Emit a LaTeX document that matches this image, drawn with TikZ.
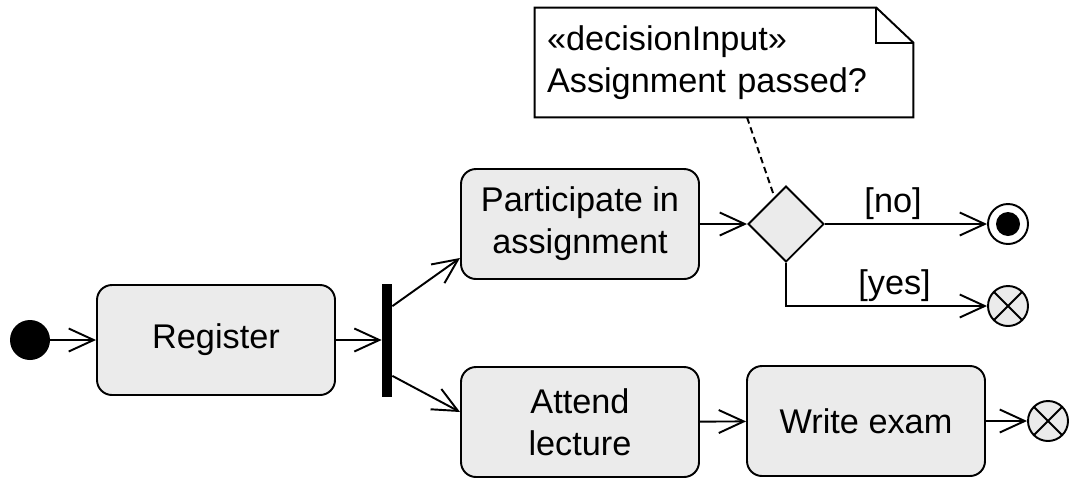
\documentclass[tikz,border=0pt]{standalone}
\usepackage{fontspec}
\setmainfont{Liberation Sans}
\usetikzlibrary{arrows.meta,shapes.geometric,calc}

\definecolor{actgray}{HTML}{EBEBEB}

\tikzset{
  flow/.style={line width=1.1pt,-{Straight Barb[length=0.5cm,width=0.46cm,line width=1.1pt]}},
  action/.style={draw,line width=1.1pt,fill=actgray,rounded corners=0.3cm,
    minimum width=4.76cm,minimum height=2.2cm,align=center,
    font=\fontsize{19.5}{24}\selectfont},
  guard/.style={font=\fontsize{19.5}{24}\selectfont,inner sep=2pt},
  flowfinal/.style={circle,draw,line width=1.1pt,fill=actgray,minimum size=0.8cm,inner sep=0pt,
    path picture={\draw[line width=1.1pt] (path picture bounding box.center)
      +(45:0.4cm) -- +(225:0.4cm) +(135:0.4cm) -- +(-45:0.4cm);}},
}

\begin{document}
\begin{tikzpicture}
  \useasboundingbox (0,0) rectangle (21.4,-9.58);

  % nodes
  \node[circle,fill=black,minimum size=0.8cm,inner sep=0pt] (init) at (0.6,-6.8) {};
  \node[action] (register) at (4.32,-6.8) {Register};
  \node[fill=black,minimum width=0.2cm,minimum height=2.26cm,inner sep=0pt] (fork) at (7.74,-6.8) {};
  \node[action] (participate) at (11.6,-4.48) {Participate in\\assignment};
  \node[action] (attend) at (11.6,-8.44) {Attend\\lecture};
  \node[action] (exam) at (17.32,-8.42) {Write exam};
  \node[diamond,draw,line width=1.1pt,fill=actgray,minimum size=1.52cm,inner sep=0pt] (decision) at (15.72,-4.48) {};
  \node[circle,draw,line width=1.1pt,fill=white,minimum size=0.8cm,inner sep=0pt,
    path picture={\fill[black] (path picture bounding box.center) circle (0.24cm);}] (final) at (20.16,-4.48) {};
  \node[flowfinal] (endyes) at (20.16,-6.12) {};
  \node[flowfinal] (endexam) at (20.96,-8.42) {};

  % note
  \node[minimum width=7.56cm,minimum height=2.18cm,text width=7.08cm,inner sep=0.24cm,
    align=left,font=\fontsize{19.5}{24}\selectfont] (note) at (14.48,-1.25)
    {«decisionInput»\\Assignment passed?};
  \draw[line width=1.1pt] (note.north west) -- ([xshift=-0.74cm]note.north east)
    -- ([yshift=-0.7cm]note.north east) -- (note.south east) -- (note.south west) -- cycle;
  \draw[line width=1.1pt] ([xshift=-0.74cm]note.north east) |- ([yshift=-0.7cm]note.north east);
  \draw[line width=1.1pt,dash pattern=on 0.13cm off 0.08cm] ([xshift=0.46cm]note.south)
    -- ($(decision.north)!0.3!(decision.west)$);

  % edges
  \begin{scope}[flow]
    \draw (init) -- (register);
    \draw (register) -- (fork);
    \draw ([yshift=-0.46cm]fork.north east) -- ([yshift=0.44cm]participate.south west);
    \draw ([yshift=0.42cm]fork.south east) -- ([yshift=0.2cm]attend.west);
    \draw (participate) -- (decision);
    \draw (decision) -- node[guard,above,pos=0.42] {[no]} (final);
    \draw (decision.south) |- node[guard,above,pos=0.77] {[yes]} (endyes);
    \draw (attend) -- (exam);
    \draw (exam) -- (endexam);
  \end{scope}
\end{tikzpicture}
\end{document}
